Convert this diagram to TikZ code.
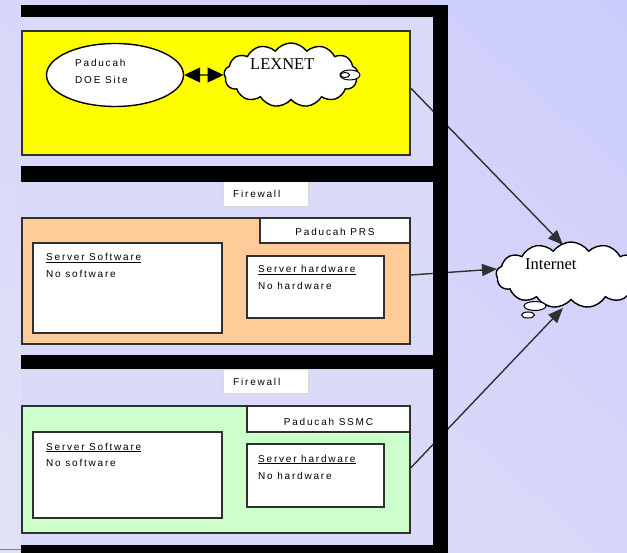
\documentclass[tikz,border=0pt]{standalone}
\usepackage{fontspec}
\usetikzlibrary{shapes.geometric,shapes.symbols,arrows.meta,shadings}
\newfontfamily\smallf[LetterSpace=18]{Liberation Sans}
\newfontfamily\serf{Liberation Serif}
\definecolor{bgA}{HTML}{E2E2F6}
\definecolor{bgB}{HTML}{CCCCFC}
\definecolor{panelc}{HTML}{D9D9F8}
\definecolor{yel}{HTML}{FFFF00}
\definecolor{ora}{HTML}{FFCC99}
\definecolor{grn}{HTML}{CCFFCC}
\definecolor{edge}{HTML}{303030}
\tikzset{
  bar/.style={fill=black},
  panel/.style={fill=panelc},
  box/.style={draw=edge, line width=1.3pt, rectangle, inner sep=0pt},
  fwbox/.style={draw=white!85!black, fill=white, line width=0.6pt, rectangle, inner sep=0pt},
  txt/.style={font=\smallf\fontsize{10}{11}\selectfont, inner sep=0pt, anchor=base west},
  ctxt/.style={font=\smallf\fontsize{10}{11}\selectfont, inner sep=0pt, anchor=base},
  big/.style={font=\serf\fontsize{16.5}{18}\selectfont, inner sep=0pt, anchor=base west},
  conn/.style={draw=edge, line width=1.4pt, -{Triangle[length=15pt,width=12pt]}},
  cloudnode/.style={cloud, cloud puffs=13, cloud puff arc=110, cloud ignores aspect, draw=black, line width=1.4pt, fill=white, inner sep=0pt},
  bubble/.style={ellipse, draw=black, line width=1pt, fill=white, inner sep=0pt}
}
\begin{document}
\begin{tikzpicture}[x=1pt,y=-1pt]
\useasboundingbox (0,0) rectangle (627,553);
\clip (0,0) rectangle (627,553);
% background
\shade[lower left=bgA, upper right=bgB, lower right=bgA!50!bgB, upper left=bgA!50!bgB] (0,0) rectangle (627,553);
\draw[gray, line width=0.8pt] (0,549) -- (21,549);
% panels
\fill[panel] (21,17) rectangle (433,166);
\fill[panel] (21,182) rectangle (433,355);
\fill[panel] (21,369) rectangle (433,545);

% ---------- panel 1 ----------
\node[box, fill=yel, minimum width=388pt, minimum height=124pt] (yellow) at (216,93) {};
\node[ellipse, draw=black, line width=1.4pt, fill=white, minimum width=137pt, minimum height=63pt, inner sep=0pt] (site) at (115,75) {};
\node[txt] (siteA) at (75,67) {Paducah};
\node[txt] (siteB) at (75,84) {DOE Site};
\node[cloudnode, minimum width=134pt, minimum height=64pt] (lexnet) at (291,75) {};
\node[bubble, minimum width=20pt, minimum height=10pt] (lb1) at (350,75) {};
\node[bubble, minimum width=9pt, minimum height=5pt] (lb2) at (345,75) {};
\node[big] (lexlabel) at (250,70) {LEXNET};
\draw[black, line width=1.2pt, {Triangle[length=16pt,width=15pt]}-{Triangle[length=16pt,width=15pt]}] (site.east) -- (lexnet.west);

% ---------- panel 2 ----------
\node[fwbox, minimum width=85pt, minimum height=25pt] (fw2) at (265.5,193.5) {};
\node[txt] (fw2t) at (233,198) {Firewall};
\node[box, fill=ora, minimum width=388pt, minimum height=126pt] (orange) at (216,281) {};
\node[box, fill=white, minimum width=150pt, minimum height=25pt] (prs) at (335,230.5) {};
\node[ctxt] (prst) at (335,236) {Paducah PRS};
\node[box, fill=white, minimum width=189pt, minimum height=90pt] (sw2) at (127.5,288) {};
\node[txt] (sw2a) at (46,261) {\underline{Server Software}};
\node[txt] (sw2b) at (46,278) {No software};
\node[box, fill=white, minimum width=137pt, minimum height=62pt] (hw2) at (315.5,287) {};
\node[txt] (hw2a) at (258,273) {\underline{Server hardware}};
\node[txt] (hw2b) at (258,290) {No hardware};

% ---------- panel 3 ----------
\node[fwbox, minimum width=85pt, minimum height=24pt] (fw3) at (265.5,381) {};
\node[txt] (fw3t) at (233,386) {Firewall};
\node[box, fill=grn, minimum width=388pt, minimum height=127pt] (green) at (216,469.5) {};
\node[box, fill=white, minimum width=163pt, minimum height=26pt] (ssmc) at (328.5,419) {};
\node[ctxt] (ssmct) at (328.5,425) {Paducah SSMC};
\node[box, fill=white, minimum width=189pt, minimum height=86pt] (sw3) at (127.5,475) {};
\node[txt] (sw3a) at (46,450) {\underline{Server Software}};
\node[txt] (sw3b) at (46,467) {No software};
\node[box, fill=white, minimum width=137pt, minimum height=63pt] (hw3) at (315.5,475.5) {};
\node[txt] (hw3a) at (258,462) {\underline{Server hardware}};
\node[txt] (hw3b) at (258,479) {No hardware};

% ---------- Internet cloud ----------
\node[cloudnode, minimum width=150pt, minimum height=66pt] (inet) at (571,275) {};
\node[bubble, minimum width=22pt, minimum height=9pt] (ib1) at (535,306) {};
\node[bubble, minimum width=13pt, minimum height=6pt] (ib2) at (528,315) {};
\node[big] (inetlabel) at (525,270) {Internet};
\coordinate (inA) at (563,245);
\coordinate (inB) at (497,269);
\coordinate (inC) at (563,308);

% connectors
\draw[conn] ([yshift=5pt]yellow.east) -- (inA);
\draw[conn] ([yshift=6pt]orange.east) -- (inB);
\draw[conn] ([yshift=1.5pt]green.east) -- (inC);

% black frame bars (drawn over connectors)
\fill[bar] (21,5) rectangle (448,17);
\fill[bar] (433,5) rectangle (448,553);
\fill[bar] (21,166) rectangle (448,182);
\fill[bar] (21,355) rectangle (448,369);
\fill[bar] (21,545) rectangle (448,553);
\end{tikzpicture}
\end{document}
